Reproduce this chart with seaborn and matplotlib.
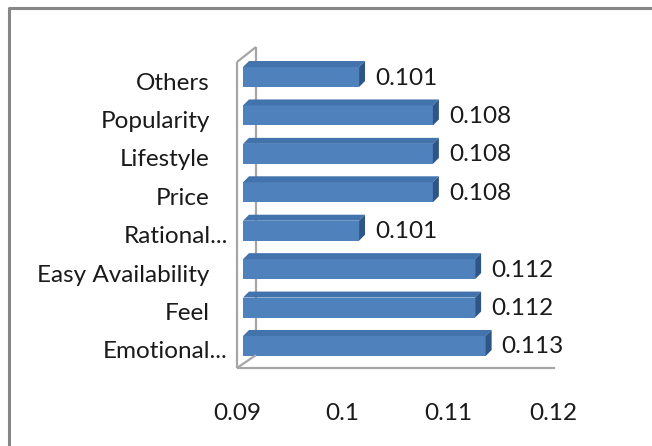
import matplotlib
matplotlib.use("Agg")
import matplotlib.pyplot as plt
import matplotlib.transforms as mtransforms
from matplotlib.patches import Polygon
from matplotlib.lines import Line2D
import seaborn as sns
import pandas as pd

# Scores per purchase factor (top to bottom)
categories = ["Others", "Popularity", "Lifestyle", "Price", "Rational...",
              "Easy Availability", "Feel", "Emotional..."]
scores = [0.101, 0.108, 0.108, 0.108, 0.101, 0.112, 0.112, 0.113]
x_ticks = [0.09, 0.10, 0.11, 0.12]
x_tick_labels = ["0.09", "0.1", "0.11", "0.12"]

W, H = 652, 446
FS = 17.5
sns.set_theme(style="white")
plt.rcParams["font.family"] = ["Lato", "DejaVu Sans"]

fig = plt.figure(figsize=(W / 100, H / 100), dpi=100)
fig.patch.set_facecolor("white")

# plot area in pixels (bars live in the mid-depth plane)
ax_l, ax_r, ax_t, ax_b = 243, 559.5, 47, 368
ax = fig.add_axes([ax_l / W, 1 - ax_b / H, (ax_r - ax_l) / W, (ax_b - ax_t) / H])

df = pd.DataFrame({"factor": categories, "score": scores})
sns.barplot(data=df, x="score", y="factor", orient="h", color="#4F81BD",
            saturation=1, width=0.52, ax=ax, zorder=3)
ax.set_xlim(0.09, 0.12)
ax.set_ylim(7.573, -0.781)
ax.set_xlabel("")
ax.set_ylabel("")
for s in ax.spines.values():
    s.set_visible(False)
ax.set_facecolor("none")

# 3D faces on each bar
dx, dy = 6, 6
xmin = ax.get_xlim()[0]
for p in ax.patches:
    p.set_edgecolor("none")
    left = max(p.get_x(), xmin)
    (x0, y0), (x1, y1) = ax.transData.transform(
        [(left, p.get_y() + p.get_height()), (p.get_x() + p.get_width(), p.get_y())])
    # display coords: y grows upward; y1 is the top edge
    top = Polygon([(x0, y1), (x1, y1), (x1 + dx, y1 + dy), (x0 + dx, y1 + dy)],
                  closed=True, transform=mtransforms.IdentityTransform(),
                  facecolor="#4373AC", edgecolor="none", zorder=4, clip_on=False)
    side = Polygon([(x1, y0), (x1, y1), (x1 + dx, y1 + dy), (x1 + dx, y0 + dy)],
                   closed=True, transform=mtransforms.IdentityTransform(),
                   facecolor="#2F5584", edgecolor="none", zorder=4, clip_on=False)
    ax.add_artist(top)
    ax.add_artist(side)

# value labels
for i, v in enumerate(scores):
    off = mtransforms.offset_copy(ax.transData, fig=fig, x=16, y=-1, units="dots")
    ax.text(v, i, f"{v:.3f}", transform=off, ha="left", va="center",
            fontsize=FS, color="#1a1a1a")

# ticks
ax.set_xticks(x_ticks)
ax.set_xticklabels(x_tick_labels, fontsize=FS, color="#1a1a1a")
ax.tick_params(axis="x", length=0, pad=25)
for lab in ax.get_xticklabels():
    lab.set_transform(lab.get_transform() +
                      mtransforms.ScaledTranslation(-6 / 100, 0, fig.dpi_scale_trans))
ax.tick_params(axis="y", length=0, pad=24)
ax.set_yticks(range(len(categories)))
ax.set_yticklabels(categories, fontsize=FS, color="#1a1a1a")
for lab in ax.get_yticklabels():
    shift = 18 if lab.get_text().endswith("...") else 0
    lab.set_transform(lab.get_transform() +
                      mtransforms.ScaledTranslation(shift / 100, -4 / 100, fig.dpi_scale_trans))


def px(x, y):
    return x / W, 1 - y / H


# walls and floor edges
wall = dict(color="#A6A6A6", lw=1.6, solid_capstyle="butt")
segs = [
    ([(256, 47), (256, 355)], -1),    # back edge of side wall (behind bars)
    ([(237, 62), (237, 368)], 2),     # front edge of side wall
    ([(237, 368), (555, 368)], 2),    # front edge of floor
    ([(237, 62), (256, 47)], 2),      # top of side wall
    ([(237, 368), (256, 355)], 2),    # floor corner
]
for seg, z in segs:
    (xa, ya), (xb, yb) = px(*seg[0]), px(*seg[1])
    fig.add_artist(Line2D([xa, xb], [ya, yb], zorder=z, **wall))

# outer chart border
(bx0, by0) = px(9, 446)
(bx1, by1) = px(9, 8)
(bx2, by2) = px(652, 8)
fig.add_artist(Line2D([bx0, bx1, bx2], [by0, by1, by2], color="#878787", lw=2.2))

fig.savefig("out.png", dpi=100)
